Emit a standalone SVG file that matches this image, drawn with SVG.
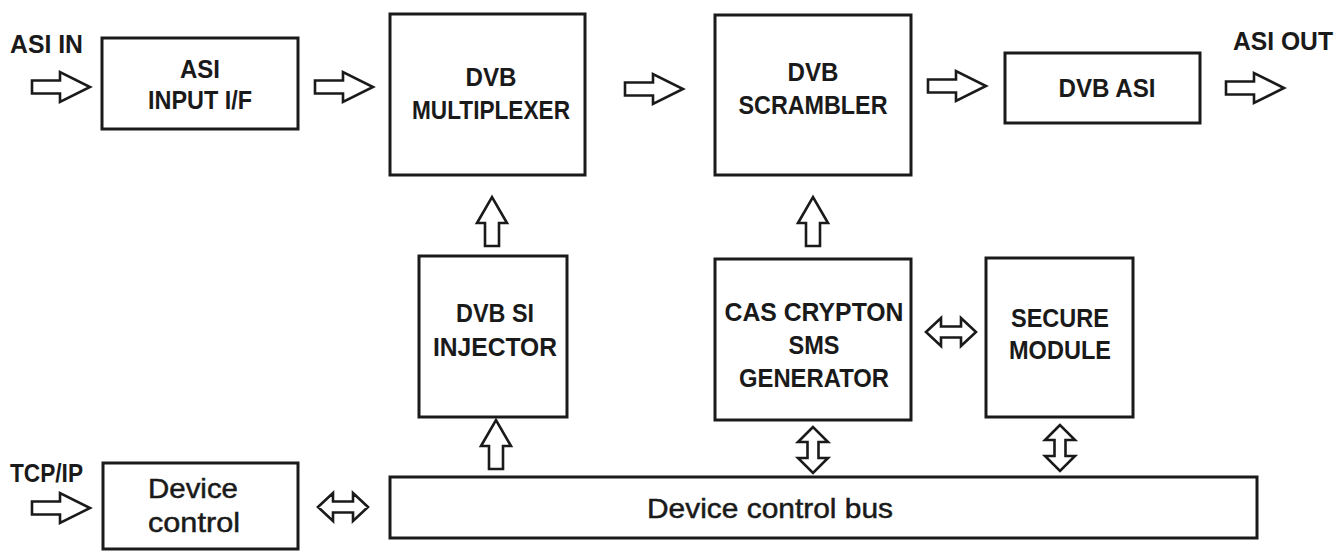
<svg xmlns="http://www.w3.org/2000/svg" xmlns:xlink="http://www.w3.org/1999/xlink" width="1336" height="551" viewBox="0 0 1336 551">
<style>
.box{fill:#fff;stroke:#1a1a1a;stroke-width:3}
.arr{fill:#fff;stroke:#1a1a1a;stroke-width:2.6;stroke-linejoin:miter}
.t{font-family:"Liberation Sans",Arial,sans-serif;font-weight:bold;font-size:26px;fill:#1a1a1a;text-anchor:middle}
.lbl{font-family:"Liberation Sans",Arial,sans-serif;font-weight:bold;font-size:25px;fill:#1a1a1a}
.r{font-family:"Liberation Sans",Arial,sans-serif;font-size:28px;fill:#1a1a1a;stroke:#1a1a1a;stroke-width:0.5}
</style>
<defs>
<path id="ah" d="M0,-6.5 H28 V-15 L58,0 L28,15 V6.5 H0 Z"/>
<path id="au" d="M-7,0 V-23 H-15 L0,-49 L15,-23 H7 V0 Z"/>
<path id="dh" d="M0,0 L15,-14 V-5.5 H35 V-14 L50,0 L35,14 V5.5 H15 V14 Z"/>
<path id="dv" d="M0,0 L-15,15 H-5.5 V31 H-15 L0,46 L15,31 H5.5 V15 H15 Z"/>
</defs>
<rect width="1336" height="551" fill="#fff"/>

<g id="labels">
<text class="lbl" x="10" y="53" textLength="73" lengthAdjust="spacingAndGlyphs">ASI IN</text>
<text class="lbl" x="1233" y="50" textLength="100" lengthAdjust="spacingAndGlyphs">ASI OUT</text>
<text class="lbl" x="10" y="482" textLength="73" lengthAdjust="spacingAndGlyphs">TCP/IP</text>
</g>

<g id="asi-input">
<rect class="box" x="102" y="38" width="196" height="91"/>
<text class="t" x="200" y="78" textLength="40" lengthAdjust="spacingAndGlyphs">ASI</text>
<text class="t" x="200" y="109" textLength="104" lengthAdjust="spacingAndGlyphs">INPUT I/F</text>
</g>

<g id="multiplexer">
<rect class="box" x="390" y="14" width="195" height="161"/>
<text class="t" x="491" y="86" textLength="51" lengthAdjust="spacingAndGlyphs">DVB</text>
<text class="t" x="491" y="119" textLength="158" lengthAdjust="spacingAndGlyphs">MULTIPLEXER</text>
</g>

<g id="scrambler">
<rect class="box" x="715" y="15" width="196" height="160"/>
<text class="t" x="813" y="81" textLength="51" lengthAdjust="spacingAndGlyphs">DVB</text>
<text class="t" x="813" y="114" textLength="149" lengthAdjust="spacingAndGlyphs">SCRAMBLER</text>
</g>

<g id="dvb-asi">
<rect class="box" x="1005" y="53" width="195" height="70"/>
<text class="t" x="1107" y="97" textLength="97" lengthAdjust="spacingAndGlyphs">DVB ASI</text>
</g>

<g id="si-injector">
<rect class="box" x="419" y="256" width="148" height="161"/>
<text class="t" x="495" y="322" textLength="78" lengthAdjust="spacingAndGlyphs">DVB SI</text>
<text class="t" x="495" y="356" textLength="124" lengthAdjust="spacingAndGlyphs">INJECTOR</text>
</g>

<g id="cas">
<rect class="box" x="715" y="259" width="196" height="161"/>
<text class="t" x="814" y="321" textLength="179" lengthAdjust="spacingAndGlyphs">CAS CRYPTON</text>
<text class="t" x="814" y="354" textLength="51" lengthAdjust="spacingAndGlyphs">SMS</text>
<text class="t" x="814" y="387" textLength="150" lengthAdjust="spacingAndGlyphs">GENERATOR</text>
</g>

<g id="secure">
<rect class="box" x="986" y="258" width="147" height="159"/>
<text class="t" x="1060" y="327" textLength="98" lengthAdjust="spacingAndGlyphs">SECURE</text>
<text class="t" x="1060" y="359" textLength="102" lengthAdjust="spacingAndGlyphs">MODULE</text>
</g>

<g id="device-control">
<rect class="box" x="103" y="463" width="195" height="86"/>
<text class="r" x="148" y="498" textLength="90" lengthAdjust="spacingAndGlyphs">Device</text>
<text class="r" x="148" y="532" textLength="92" lengthAdjust="spacingAndGlyphs">control</text>
</g>

<g id="bus">
<rect class="box" x="390" y="477" width="867" height="61"/>
<text class="r" x="647" y="518" textLength="246" lengthAdjust="spacingAndGlyphs">Device control bus</text>
</g>

<g id="connectors">
<use href="#ah" xlink:href="#ah" class="arr" transform="translate(32,87)"/>
<use href="#ah" xlink:href="#ah" class="arr" transform="translate(315,87)"/>
<use href="#ah" xlink:href="#ah" class="arr" transform="translate(625,89)"/>
<use href="#ah" xlink:href="#ah" class="arr" transform="translate(928,86)"/>
<use href="#ah" xlink:href="#ah" class="arr" transform="translate(1226,88)"/>
<use href="#ah" xlink:href="#ah" class="arr" transform="translate(32,508)"/>
<use href="#au" xlink:href="#au" class="arr" transform="translate(492,246)"/>
<use href="#au" xlink:href="#au" class="arr" transform="translate(813,246)"/>
<use href="#au" xlink:href="#au" class="arr" transform="translate(496,469)"/>
<use href="#dh" xlink:href="#dh" class="arr" transform="translate(318,507)"/>
<use href="#dh" xlink:href="#dh" class="arr" transform="translate(926,332)"/>
<use href="#dv" xlink:href="#dv" class="arr" transform="translate(813,427)"/>
<use href="#dv" xlink:href="#dv" class="arr" transform="translate(1060,425)"/>
</g>
</svg>
